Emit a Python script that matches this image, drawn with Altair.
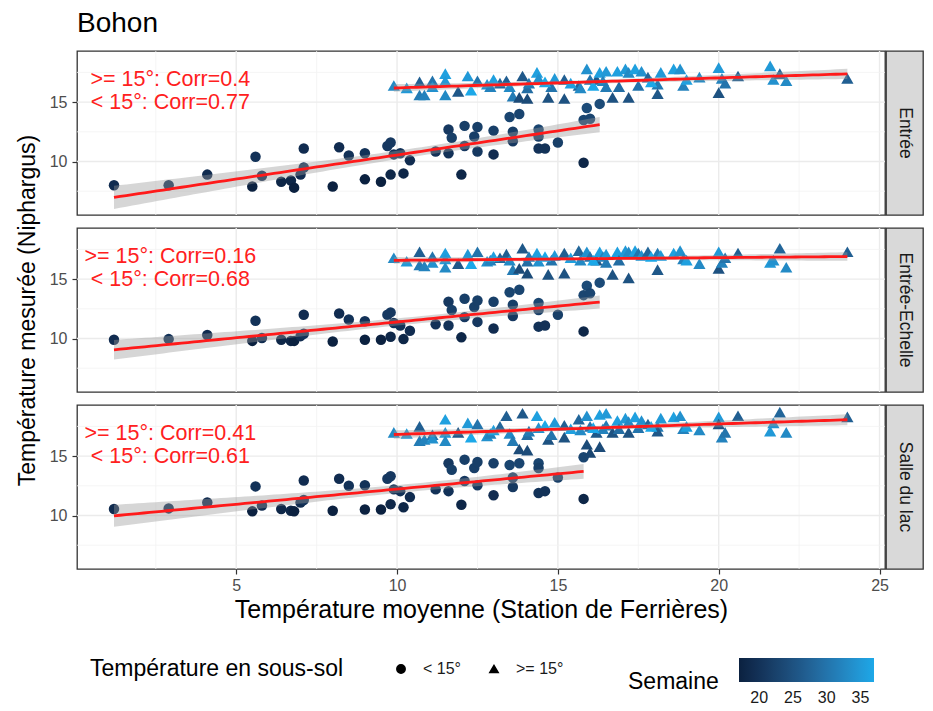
import altair as alt
import numpy as np
import pandas as pd

FONT = "Liberation Sans"

# ---------------- data ----------------
panels = ["Entrée", "Entrée-Echelle", "Salle du lac"]
corr_labels = [
    ">= 15°: Corr=0.4\n< 15°: Corr=0.77",
    ">= 15°: Corr=0.16\n< 15°: Corr=0.68",
    ">= 15°: Corr=0.41\n< 15°: Corr=0.61",
]
ann_x = 2.95
ann_y = 16.85

# weeks with cold subsoil (station temperature shared by all panels)
x_cold = [1.2, 2.9, 4.1, 5.6, 5.5, 5.8, 6.4, 6.7, 6.8, 7.0, 7.1, 7.1, 8.0, 8.2, 8.5, 9.0, 9.0,
          9.5, 9.8, 9.7, 9.8, 9.9, 10.1, 10.4, 10.2, 11.2, 11.6, 11.7, 11.6, 12.0, 12.1, 12.1,
          12.4, 12.5, 12.5, 13.0, 13.0, 13.5, 13.8, 13.6, 13.6, 14.4, 14.4, 14.4, 14.6, 15.0,
          15.8, 15.9, 15.8, 16.0, 16.3]
y_cold_p1 = [8.0, 8.0, 8.9, 10.4, 7.9, 8.8, 8.3, 8.4, 7.8, 8.9, 9.5, 11.1, 7.9, 11.2, 10.5, 10.7,
             8.5, 8.3, 8.9, 11.3, 11.6, 10.6, 10.7, 10.1, 9.0, 10.85, 12.7, 12.0, 10.7, 8.9, 13.0,
             11.3, 12.1, 12.9, 10.85, 12.6, 10.6, 13.75, 14.0, 12.5, 11.7, 12.7, 12.1, 11.1, 11.1,
             11.6, 9.9, 14.5, 13.5, 13.6, 14.85]
y_cold_p2 = [9.9, 9.95, 10.3, 11.5, 9.8, 10.05, 9.9, 9.8, 9.8, 10.2, 10.4, 12.0, 9.75, 12.1, 11.6,
             11.45, 9.9, 9.9, 10.15, 12.0, 12.2, 11.3, 11.1, 10.65, 9.95, 11.2, 13.1, 12.4, 11.1,
             10.1, 13.35, 11.8, 12.65, 13.2, 11.4, 13.1, 10.85, 13.9, 14.1, 12.85, 11.9, 13.0, 12.4,
             11.0, 11.1, 12.0, 10.6, 14.45, 13.65, 13.8, 14.7]
y_cold_p3 = [10.55, 10.6, 11.1, 12.45, 10.35, 10.85, 10.55, 10.4, 10.35, 11.1, 11.3, 12.95, 10.4,
             13.1, 12.5, 12.55, 10.5, 10.5, 10.95, 13.1, 13.3, 12.2, 12.05, 11.55, 10.7, 12.2, 14.4,
             13.85, 12.05, 10.9, 14.7, 12.9, 14.0, 14.5, 12.55, 14.4, 11.7, 14.25, 14.4, 13.2, 12.4,
             14.4, 14.0, 11.9, 12.05, 13.2, 11.4, 16.0, 14.9, 15.3, 15.8]
week_cold = [19, 20, 19, 20, 17, 19, 18, 18, 17, 19, 20, 19, 17, 19, 20, 20, 17, 17, 18, 21, 21, 20,
             20, 19, 18, 20, 21, 22, 20, 18, 22, 21, 22, 22, 21, 22, 19, 23, 23, 22, 21, 23, 22, 20,
             20, 22, 18, 24, 23, 23, 24]

# weeks with warm subsoil
x_warm = [9.9, 10.7, 10.7, 10.85, 11.1, 11.1, 11.5, 11.5, 11.5, 11.9, 12.2, 12.5, 12.8, 12.9, 13.2,
          13.4, 13.5, 13.6, 13.8, 13.9, 14.05, 14.05, 14.35, 14.4, 14.1, 14.7, 14.8, 14.9, 15.2,
          15.2, 15.65, 15.9, 15.7, 16.0, 16.2, 16.3, 16.4, 16.5, 16.5, 16.7, 16.85, 16.9, 17.1,
          17.2, 17.2, 17.4, 17.5, 17.6, 17.8, 18.1, 18.1, 18.2, 18.6, 18.8, 18.9, 19.4, 20.0, 20.0,
          20.1, 20.2, 20.6, 21.6, 21.7, 21.9, 22.1, 24.0, 12.3, 13.0, 14.6, 15.4, 16.1, 17.9, 19.0,
          10.3]
y_warm_p1 = [16.4, 16.7, 15.6, 15.6, 16.8, 16.3, 17.4, 16.8, 15.6, 15.9, 17.2, 16.8, 16.5, 16.3,
             16.6, 16.8, 16.3, 15.5, 15.4, 17.2, 15.3, 16.2, 17.5, 17.0, 16.6, 15.4, 16.3, 17.0,
             15.3, 16.9, 16.4, 17.8, 16.2, 16.9, 16.9, 17.5, 16.8, 17.6, 16.3, 15.4, 17.6, 16.3,
             17.8, 15.4, 17.5, 17.8, 16.4, 17.6, 17.1, 16.5, 15.7, 17.5, 17.8, 17.8, 16.4, 17.1,
             17.9, 15.8, 17.0, 16.6, 17.2, 18.05, 16.9, 17.4, 16.8, 17.0, 16.0, 16.9, 16.7, 16.6,
             16.4, 16.7, 16.9, 16.2]
y_warm_p2 = [16.8, 17.3, 16.2, 16.1, 16.9, 16.4, 17.2, 16.7, 16.0, 16.3, 17.1, 17.3, 16.5, 16.6,
             16.8, 17.1, 16.6, 15.8, 15.9, 17.6, 15.5, 16.5, 17.2, 16.5, 16.9, 15.4, 16.6, 17.0,
             15.5, 17.2, 17.4, 17.3, 16.6, 16.9, 16.6, 17.3, 16.9, 17.1, 16.4, 15.4, 17.3, 16.6,
             17.4, 15.1, 17.3, 17.4, 17.2, 17.0, 17.3, 17.2, 15.8, 17.0, 17.2, 17.4, 16.7, 16.3,
             17.3, 15.9, 16.4, 16.8, 17.2, 16.4, 16.6, 17.6, 16.0, 17.3, 16.3, 16.9, 16.9, 16.8,
             16.6, 16.9, 16.6, 16.5]
y_warm_p3 = [17.0, 17.5, 16.3, 16.4, 16.8, 16.5, 18.1, 17.0, 16.3, 17.0, 17.8, 17.7, 16.7, 16.9,
             17.5, 18.4, 16.9, 16.3, 15.6, 18.6, 15.5, 16.8, 18.4, 17.4, 17.1, 16.4, 16.8, 17.85,
             16.6, 17.6, 18.1, 18.4, 17.2, 17.5, 17.0, 18.5, 17.3, 18.6, 17.6, 17.0, 18.0, 17.3,
             18.2, 17.0, 17.9, 18.3, 17.4, 18.0, 17.7, 17.5, 17.1, 18.2, 18.3, 18.4, 17.3, 17.2,
             18.3, 17.7, 16.6, 17.0, 18.4, 17.1, 17.8, 18.7, 17.0, 18.3, 16.6, 17.2, 17.6, 17.3,
             17.4, 17.5, 17.5, 16.9]
week_warm = [33, 27, 31, 32, 30, 34, 36, 35, 33, 26, 35, 30, 34, 32, 28, 27, 33, 31, 24, 26, 24, 29,
             36, 34, 31, 25, 30, 35, 25, 27, 28, 34, 33, 30, 26, 36, 32, 35, 31, 25, 36, 29, 35, 25,
             33, 36, 30, 34, 28, 31, 26, 35, 36, 34, 32, 33, 35, 25, 32, 30, 27, 35, 34, 28, 33, 27,
             37, 36, 37, 36, 37, 37, 36, 35]

y_panels = [y_cold_p1 + y_warm_p1, y_cold_p2 + y_warm_p2, y_cold_p3 + y_warm_p3]
x_all = x_cold + x_warm
week_all = week_cold + week_warm

group_labels = ["< 15°", ">= 15°"]
week_ticks = [20, 25, 30, 35]
x_major = [5, 10, 15, 20, 25]
x_minor = [2.5, 7.5, 12.5, 17.5, 22.5]
y_major = [10, 15]
y_minor = [7.5, 12.5, 17.5]

# ---------------- helpers ----------------
XS = alt.Scale(domain=[0.05, 25.17], nice=False, zero=False)
YS = alt.Scale(domain=[5.5, 19.3], nice=False, zero=False)
PANEL_W = 808
PANEL_H = 164


def lm_fit(xv, yv):
    xv = np.asarray(xv, float)
    yv = np.asarray(yv, float)
    n = len(xv)
    b, a = np.polyfit(xv, yv, 1)
    res = yv - (a + b * xv)
    s = np.sqrt((res ** 2).sum() / (n - 2))
    xg = np.linspace(xv.min(), xv.max(), 80)
    se = s * np.sqrt(1.0 / n + (xg - xv.mean()) ** 2 / ((xv - xv.mean()) ** 2).sum())
    t = 1.96 + 2.4 / (n - 2)
    yh = a + b * xg
    return xg, yh, yh - t * se, yh + t * se


color_legend = alt.Legend(title="Semaine", orient="none", legendX=551, legendY=607,
                          direction="horizontal", titleOrient="left", titleAnchor="end",
                          titleBaseline="middle",
                          gradientLength=135, gradientThickness=24,
                          values=week_ticks, labelFontSize=16, labelOffset=8,
                          labelColor="#1a1a1a", labelFont=FONT, titleFont=FONT,
                          titleFontSize=23, titleFontWeight="normal",
                          titleColor="black", titlePadding=20, titleLimit=400,
                          gradientStrokeWidth=0)
shape_legend = alt.Legend(title="Température en sous-sol", orient="none",
                          legendX=13, legendY=610, direction="horizontal",
                          titleOrient="left", titleAnchor="middle", titleBaseline="middle",
                          titleFontSize=23, titleLimit=500,
                          titleFontWeight="normal", titleColor="black",
                          titleFont=FONT, labelFont=FONT, labelFontSize=16,
                          labelColor="#1a1a1a", symbolFillColor="black",
                          symbolStrokeColor="black", symbolSize=70,
                          titlePadding=49, columnPadding=25, labelOffset=14)


def make_panel(i):
    ys = y_panels[i]
    df = pd.DataFrame({"x": x_all, "y": ys, "week": week_all})
    df["grp"] = np.where(df["y"] >= 15, group_labels[1], group_labels[0])

    fits = []
    for g in group_labels:
        sub = df[df["grp"] == g]
        xg, yh, lo, hi = lm_fit(sub["x"], sub["y"])
        fits.append(pd.DataFrame({"x": xg, "yh": yh, "lo": lo, "hi": hi, "grp": g}))
    fit_df = pd.concat(fits, ignore_index=True)

    if i == 2:
        xaxis = alt.Axis(values=x_major, title="Température moyenne (Station de Ferrières)",
                         grid=False, domain=False, tickSize=5, tickColor="#333333", tickWidth=1.2,
                         labelFontSize=16, labelColor="#4d4d4d", labelPadding=3,
                         labelFont=FONT, titleFont=FONT, titleFontSize=25,
                         titleFontWeight="normal", titleColor="black", titlePadding=4)
    else:
        xaxis = None
    yaxis = alt.Axis(values=y_major,
                     title="Température mesurée (Niphargus)" if i == 1 else None,
                     grid=False, domain=False, tickSize=5, tickColor="#333333", tickWidth=1.2,
                     labelFontSize=16, labelColor="#4d4d4d", labelPadding=5,
                     labelFont=FONT, titleFont=FONT, titleFontSize=23,
                     titleFontWeight="normal", titleColor="black", titlePadding=10)

    def X(field):
        return alt.X(field, type="quantitative", scale=XS, axis=xaxis)

    def Y(field):
        return alt.Y(field, type="quantitative", scale=YS, axis=yaxis)

    gx_min = alt.Chart(pd.DataFrame({"v": x_minor})).mark_rule(color="#f2f2f2", strokeWidth=0.8).encode(x=X("v"))
    gx_maj = alt.Chart(pd.DataFrame({"v": x_major})).mark_rule(color="#ebebeb", strokeWidth=1.4).encode(x=X("v"))
    gy_min = alt.Chart(pd.DataFrame({"v": y_minor})).mark_rule(color="#f2f2f2", strokeWidth=0.8).encode(y=Y("v"))
    gy_maj = alt.Chart(pd.DataFrame({"v": y_major})).mark_rule(color="#ebebeb", strokeWidth=1.4).encode(y=Y("v"))

    base_pts = alt.Chart(df).encode(
        x=X("x"),
        y=Y("y"),
        color=alt.Color("week:Q",
                        scale=alt.Scale(domain=[17, 37], range=["#0b2140", "#1ca8e8"]),
                        legend=color_legend),
        shape=alt.Shape("grp:N",
                        scale=alt.Scale(domain=group_labels, range=["circle", "triangle-up"]),
                        legend=shape_legend),
    )
    circles = base_pts.transform_filter(alt.datum.grp == group_labels[0]).mark_point(
        filled=True, opacity=1, strokeWidth=0, size=110)
    triangles = base_pts.transform_filter(alt.datum.grp == group_labels[1]).mark_point(
        filled=True, opacity=1, strokeWidth=0, size=150)

    band = alt.Chart(fit_df).mark_area(color="#999999", opacity=0.4).encode(
        x=X("x"), y=Y("lo"), y2="hi", detail="grp:N")
    line = alt.Chart(fit_df).mark_line(color="#ff1a1a", strokeWidth=2.8).encode(
        x=X("x"), y=Y("yh"), detail="grp:N")
    txt = alt.Chart(pd.DataFrame({"x": [ann_x], "y": [ann_y], "t": [corr_labels[i]]})).mark_text(
        align="center", baseline="middle", fontSize=21.5, color="#ff2020", font=FONT,
        lineBreak="\n", lineHeight=22.5).encode(x=X("x"), y=Y("y"), text="t:N")

    return alt.layer(gx_min, gx_maj, gy_min, gy_maj, circles, triangles, band, line, txt).properties(
        width=PANEL_W, height=PANEL_H)


def make_strip(i):
    return alt.Chart(pd.DataFrame({"label": [panels[i]]})).mark_text(
        angle=90, fontSize=17.5, color="#1a1a1a", font=FONT).encode(
        text="label:N").properties(
        width=37, height=PANEL_H,
        view=alt.ViewBackground(fill="#d9d9d9", stroke="#333333", strokeWidth=1.3))


cells = []
for i in range(3):
    cells.append(make_panel(i))
    cells.append(make_strip(i))

chart = alt.concat(*cells, columns=2, spacing=alt.RowColnumber(row=13, column=1),
                   bounds="flush").resolve_scale(
    color="shared", shape="shared").properties(
    title=alt.TitleParams("Bohon", anchor="start", frame="group", fontSize=28,
                          font=FONT, fontWeight="normal", color="black", offset=12),
    background="white",
    padding={"left": 7, "top": 1, "right": 0, "bottom": 0},
).configure(font=FONT).configure_view(stroke="#333333", strokeWidth=1.3)

chart.save("out.html", embed_options={"renderer": "svg", "actions": False})
